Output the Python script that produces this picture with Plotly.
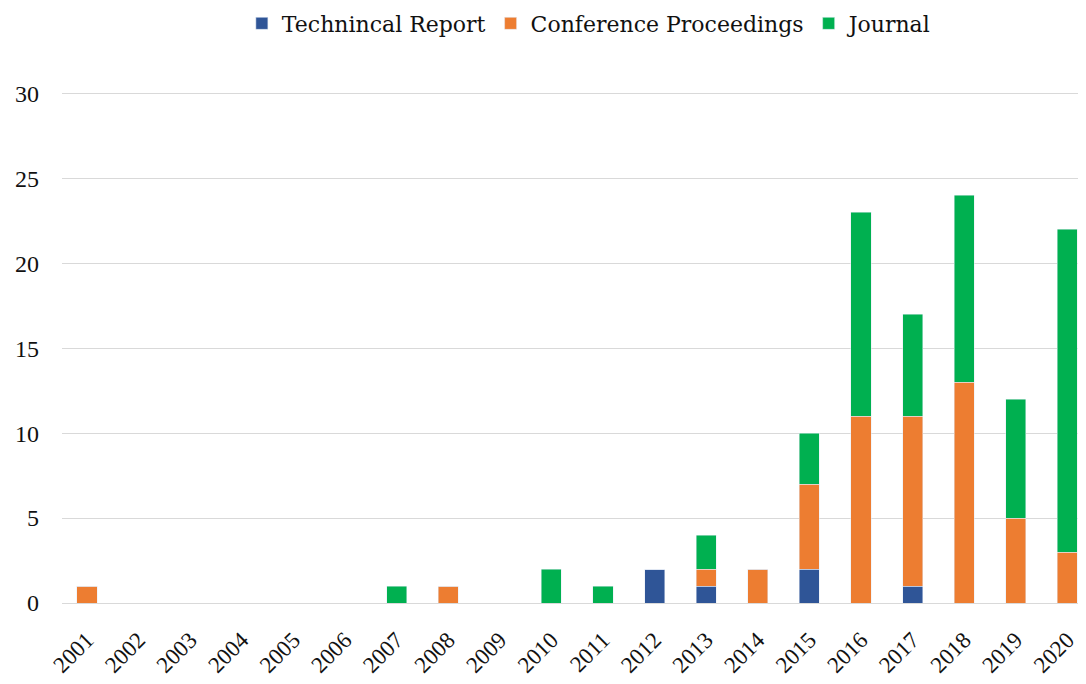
import plotly.graph_objects as go

years = [str(y) for y in range(2001, 2021)]
technical = [0, 0, 0, 0, 0, 0, 0, 0, 0, 0, 0, 2, 1, 0, 2, 0, 1, 0, 0, 0]
conference = [1, 0, 0, 0, 0, 0, 0, 1, 0, 0, 0, 0, 1, 2, 5, 11, 10, 13, 5, 3]
journal = [0, 0, 0, 0, 0, 0, 1, 0, 0, 2, 1, 0, 2, 0, 3, 12, 6, 11, 7, 19]

font = "Liberation Serif"
fig = go.Figure()
fig.add_bar(x=years, y=technical, name="Technincal Report", marker_color="#2F5597")
fig.add_bar(x=years, y=conference, name="Conference Proceedings", marker_color="#ED7D31")
fig.add_bar(x=years, y=journal, name="Journal", marker_color="#00B050")

fig.update_layout(
    barmode="stack",
    bargap=0.61,
    width=1078, height=676,
    margin=dict(l=54, r=0, t=84, b=81),
    plot_bgcolor="white", paper_bgcolor="white",
    font=dict(family=font, color="#111111", size=19),
    legend=dict(orientation="h", x=0.515, xanchor="center", y=0.977, yref="container",
                yanchor="middle", font=dict(size=22, family="DejaVu Serif"),
                traceorder="normal", tracegroupgap=0),
    showlegend=True,
)
fig.update_xaxes(type="category", range=[-0.484, 19.36], tickangle=-45,
                 tickfont=dict(size=23, family=font), showgrid=False,
                 showline=False, ticks="", automargin=False, ticklabelstandoff=18)
fig.update_yaxes(range=[0, 30.08], dtick=5, showgrid=True, gridcolor="#D9D9D9",
                 gridwidth=1, zeroline=True, zerolinecolor="#D9D9D9", zerolinewidth=1,
                 tickfont=dict(size=24, family=font), ticks="", ticklabelstandoff=22,
                 automargin=False)

fig.write_html("out.html")
